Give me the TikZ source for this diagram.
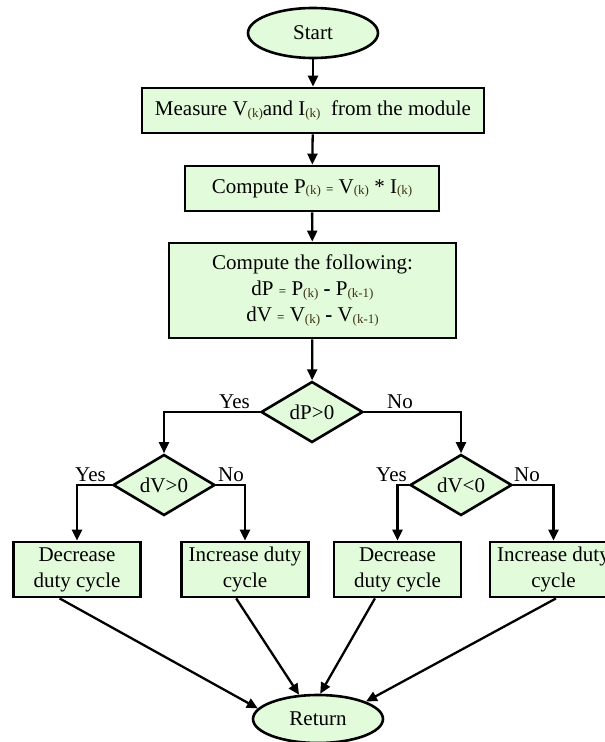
\documentclass[tikz,border=0pt]{standalone}
\usepackage{fontspec}
\setmainfont{Liberation Serif}
\usetikzlibrary{shapes.geometric,arrows.meta}
\definecolor{boxfill}{RGB}{226,251,218}
\definecolor{subcol}{RGB}{60,50,20}
\newcommand{\ix}[1]{\raisebox{-1.5pt}{\fontsize{13}{13}\selectfont\color{subcol}(#1)}}
\newcommand{\smeq}{{\fontsize{13}{13}\selectfont =}}
\begin{document}
\begin{tikzpicture}[x=1pt,y=-1pt,
    every node/.style={font=\fontsize{21}{26}\selectfont},
    term/.style={ellipse,draw,fill=boxfill,line width=2.6pt,inner sep=0pt,
      minimum width=130pt,minimum height=50pt},
    proc/.style={rectangle,draw,fill=boxfill,line width=2.8pt,inner sep=2pt,align=center},
    test/.style={diamond,draw,fill=boxfill,line width=2.6pt,inner sep=0pt,aspect=1.67,
      minimum width=102pt,minimum height=61pt},
    act/.style={proc,minimum width=127pt,minimum height=55pt},
    tag/.style={inner sep=1pt}]
  \useasboundingbox (0,0) rectangle (605,742);
  \draw
    (313,33) node[term] (start) {Start}
    (313,110.5) node[proc,minimum width=342pt,minimum height=45pt] (meas)
      {Measure V\ix{k}and I\ix{k}\ \ from the module}
    (312,188.5) node[proc,minimum width=254pt,minimum height=45pt] (comp)
      {Compute P\ix{k} \smeq\ V\ix{k} * I\ix{k}}
    (312.5,290.5) node[proc,minimum width=287pt,minimum height=95pt] (diff)
      {Compute the following:\\
       dP \smeq\ P\ix{k} \textbf{-} P\ix{k-1}\\
       dV \smeq\ V\ix{k} \textbf{-} V\ix{k-1}}
    (312,412) node[test] (dp) {dP>0}
    (164,485) node[test] (dv1) {dV>0}
    (461,485) node[test] (dv2) {dV<0}
    (77,569.5) node[act] (dec1) {Decrease\\duty cycle}
    (245,569.5) node[act] (inc1) {Increase duty\\cycle}
    (397.5,569.5) node[act] (dec2) {Decrease\\duty cycle}
    (553.5,569.5) node[act] (inc2) {Increase duty\\cycle}
    (318,719) node[term,minimum height=48pt] (ret) {Return};
  \begin{scope}[-{Triangle[length=11pt,width=10pt]},line width=2.3pt]
    \draw (start) to (meas);
    \draw (meas) to (comp);
    \draw (comp) to (diff);
    \draw (diff) to (dp);
    \draw (dp.west) -| (dv1.north);
    \draw (dp.east) -| (dv2.north);
    \draw (dv1.west) -| (dec1.north);
    \draw (dv1.east) -| (inc1.north);
    \draw (dv2.west) -| (dec2.north);
    \draw (dv2.east) -| (inc2.north);
    \draw (dec1.-121) to (ret.170);
    \draw (inc1.-107) to (ret.128);
    \draw (dec2.-128) to (ret.85);
    \draw (inc2.-85) to (ret.20);
  \end{scope}
  \node[tag,anchor=south east] (yes0) at (251,410) {Yes};
  \node[tag,anchor=south west] (no0) at (386,410) {No};
  \node[tag,anchor=south east] (yes1) at (107,483) {Yes};
  \node[tag,anchor=south west] (no1) at (217,483) {No};
  \node[tag,anchor=south east] (yes2) at (408,483) {Yes};
  \node[tag,anchor=south west] (no2) at (513,483) {No};
\end{tikzpicture}
\end{document}
